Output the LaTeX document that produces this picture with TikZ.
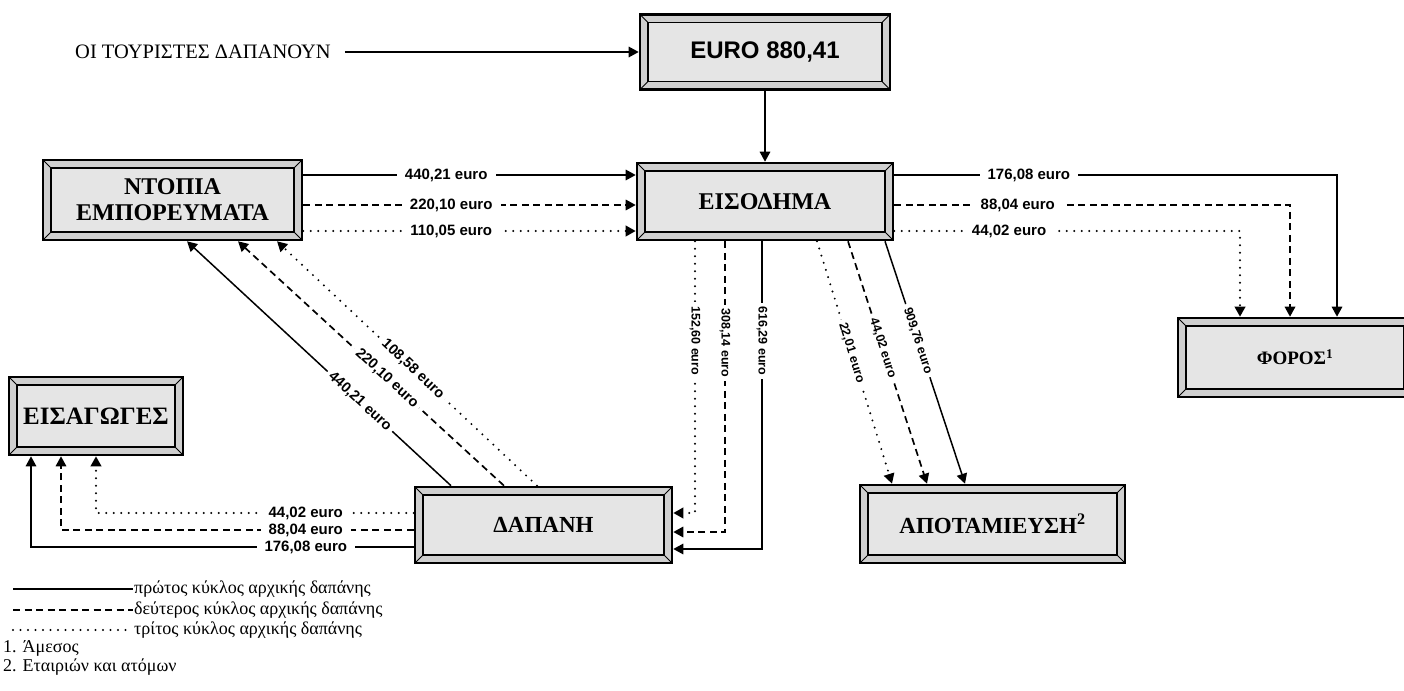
\documentclass[tikz,border=0pt]{standalone}
\usepackage{fontspec}
\setmainfont{Liberation Serif}
\newfontfamily\arialf{Liberation Sans}
\usetikzlibrary{arrows.meta}
\tikzset{
  sol/.style={line width=1.5pt},
  dsh/.style={line width=1.7pt, dash pattern=on 7pt off 4.5pt},
  dtt/.style={line width=2.2pt, line cap=round, dash pattern=on 0pt off 7.5pt},
  tip/.style={-{Triangle[length=10pt,width=10.5pt]}},
  elab/.style={font=\arialf\bfseries\fontsize{15}{17}\selectfont, fill=white, inner xsep=8pt, inner ysep=1pt},
  slab/.style={font=\arialf\bfseries\fontsize{12.5}{14}\selectfont, fill=white, inner xsep=4pt, inner ysep=0.5pt},
  dlab/.style={font=\arialf\bfseries\fontsize{14.5}{16}\selectfont, fill=white, inner xsep=4pt, inner ysep=0.5pt},
  leg/.style={font=\fontsize{18}{20}\selectfont, anchor=west, inner sep=1pt},
  bbox/.style={draw=black, line width=2.6pt, fill=gray!38, inner sep=0pt, align=center,
    font=\bfseries\fontsize{24}{26}\selectfont,
    path picture={
      \coordinate (pa) at (path picture bounding box.south west);
      \coordinate (pb) at (path picture bounding box.north east);
      \coordinate (pc) at (pa -| pb);
      \coordinate (pd) at (pb -| pa);
      \fill[gray!20] ([shift={(8pt,8pt)}]pa) rectangle ([shift={(-8pt,-8pt)}]pb);
      \draw[line width=1.7pt] ([shift={(8pt,8pt)}]pa) rectangle ([shift={(-8pt,-8pt)}]pb);
      \draw[line width=0.9pt] (pa) -- ([shift={(8pt,8pt)}]pa)
        (pb) -- ([shift={(-8pt,-8pt)}]pb)
        (pc) -- ([shift={(-8pt,8pt)}]pc)
        (pd) -- ([shift={(8pt,-8pt)}]pd);
    }}
}
\begin{document}
\begin{tikzpicture}[x=1pt,y=-1pt]
\useasboundingbox (0,0) rectangle (1404,690);

% boxes
\node[bbox, minimum width=250pt, minimum height=75pt, font=\arialf\bfseries\fontsize{24}{28}\selectfont] (euro) at (765,52) {EURO 880,41};
\node[bbox, minimum width=256pt, minimum height=77pt] (eisod) at (765,201.5) {ΕΙΣΟΔΗΜΑ};
\node[bbox, minimum width=259pt, minimum height=80pt] (ntopia) at (172.5,200) {ΝΤΟΠΙΑ\\ΕΜΠΟΡΕΥΜΑΤΑ};
\node[bbox, minimum width=234pt, minimum height=79pt, font=\bfseries\fontsize{19}{22}\selectfont] (foros) at (1295,357.5) {ΦΟΡΟΣ\textsuperscript{1}};
\node[bbox, minimum width=174pt, minimum height=78pt, font=\bfseries\fontsize{25}{28}\selectfont] (eisag) at (96,416) {ΕΙΣΑΓΩΓΕΣ};
\node[bbox, minimum width=257pt, minimum height=76pt, font=\bfseries\fontsize{23}{26}\selectfont] (dapani) at (543.5,525) {ΔΑΠΑΝΗ};
\node[bbox, minimum width=265pt, minimum height=78pt, font=\bfseries\fontsize{23}{26}\selectfont] (apot) at (992.5,524) {ΑΠΟΤΑΜΙΕΥΣΗ\textsuperscript{2}};

\node[anchor=west, inner sep=0pt, font=\fontsize{20.5}{23}\selectfont] (tour) at (75,52) {ΟΙ ΤΟΥΡΙΣΤΕΣ ΔΑΠΑΝΟΥΝ};

% helper coordinates
\coordinate (r1) at (0,175); \coordinate (r2) at (0,205); \coordinate (r3) at (0,231);
\coordinate (fx1) at (1337,0); \coordinate (fx2) at (1290,0); \coordinate (fx3) at (1240,0);
\coordinate (vx1) at (695,0); \coordinate (vx2) at (725,0); \coordinate (vx3) at (762,0);
\coordinate (hr1) at (0,513); \coordinate (hr2) at (0,532); \coordinate (hr3) at (0,549);
\coordinate (hl1) at (0,513); \coordinate (hl2) at (0,530); \coordinate (hl3) at (0,547);
\coordinate (ex1) at (96,0); \coordinate (ex2) at (61,0); \coordinate (ex3) at (31,0);
\coordinate (dd1) at (451,0); \coordinate (dd2) at (504,0); \coordinate (dd3) at (537,0);
\coordinate (nn1) at (187,0); \coordinate (nn2) at (238,0); \coordinate (nn3) at (277,0);
\coordinate (ad1) at (817,0); \coordinate (ad2) at (848,0); \coordinate (ad3) at (885,0);
\coordinate (aa1) at (892,0); \coordinate (aa2) at (927,0); \coordinate (aa3) at (965,0);

% top
\draw[sol,tip] ([xshift=14pt]tour.east) -- (euro.west);
\draw[sol,tip] (euro.south) -- (eisod.north);

% ntopia -> eisodima
\draw[sol,tip] (ntopia.east |- r1) -- node[elab,pos=0.43]{440,21 euro} (eisod.west |- r1);
\draw[dsh,tip] (ntopia.east |- r2) -- node[elab,pos=0.445]{220,10 euro} (eisod.west |- r2);
\draw[dtt,tip] (ntopia.east |- r3) -- node[elab,pos=0.445]{110,05 euro} (eisod.west |- r3);

% eisodima -> foros
\draw[sol,tip] (eisod.east |- r1) -| node[elab,pos=0.152]{176,08 euro} (foros.north -| fx1);
\draw[dsh,tip] (eisod.east |- r2) -| node[elab,pos=0.156]{88,04 euro} (foros.north -| fx2);
\draw[dtt,tip] (eisod.east |- r3) -| node[elab,pos=0.166]{44,02 euro} (foros.north -| fx3);

% eisodima -> dapani
\draw[dtt,tip] (eisod.south -| vx1) |- node[slab,rotate=-90,pos=0.183]{152,60 euro} (dapani.east |- hr1);
\draw[dsh,tip] (eisod.south -| vx2) |- node[slab,rotate=-90,pos=0.175]{308,14 euro} (dapani.east |- hr2);
\draw[sol,tip] (eisod.south -| vx3) |- node[slab,rotate=-90,pos=0.162]{616,29 euro} (dapani.east |- hr3);

% eisodima -> apotamieusi
\draw[dtt,tip] (eisod.south -| ad1) -- node[slab,sloped,pos=0.46]{22,01 euro} (apot.north -| aa1);
\draw[dsh,tip] (eisod.south -| ad2) -- node[slab,sloped,pos=0.44]{44,02 euro} (apot.north -| aa2);
\draw[sol,tip] (eisod.south -| ad3) -- node[slab,sloped,pos=0.41]{909,76 euro} (apot.north -| aa3);

% dapani -> ntopia
\draw[sol,tip] (dapani.north -| dd1) -- node[dlab,sloped,pos=0.345]{440,21 euro} (ntopia.south -| nn1);
\draw[dsh,tip] (dapani.north -| dd2) -- node[dlab,sloped,pos=0.44]{220,10 euro} (ntopia.south -| nn2);
\draw[dtt,tip] (dapani.north -| dd3) -- node[dlab,sloped,pos=0.477]{108,58 euro} (ntopia.south -| nn3);

% dapani -> eisagoges
\draw[dtt,tip] (dapani.west |- hl1) -| node[elab,pos=0.17]{44,02 euro} (eisag.south -| ex1);
\draw[dsh,tip] (dapani.west |- hl2) -| node[elab,pos=0.153]{88,04 euro} (eisag.south -| ex2);
\draw[sol,tip] (dapani.west |- hl3) -| node[elab,pos=0.141]{176,08 euro} (eisag.south -| ex3);

% legend
\node[leg] (lg1) at (133,589) {πρώτος κύκλος αρχικής δαπάνης};
\node[leg] (lg2) at (133,610) {δεύτερος κύκλος αρχικής δαπάνης};
\node[leg] (lg3) at (133,630) {τρίτος κύκλος αρχικής δαπάνης};
\coordinate (ls1) at (13,589); \coordinate (ls2) at (13,610); \coordinate (ls3) at (13,630);
\draw[sol] (ls1) -- (lg1.west);
\draw[dsh] (ls2) -- (lg2.west);
\draw[dtt] (ls3) -- (lg3.west);
\node[leg] (n1) at (2,648) {1. Άμεσος};
\node[leg] (n2) at (2,667) {2. Εταιριών και ατόμων};
\end{tikzpicture}
\end{document}
